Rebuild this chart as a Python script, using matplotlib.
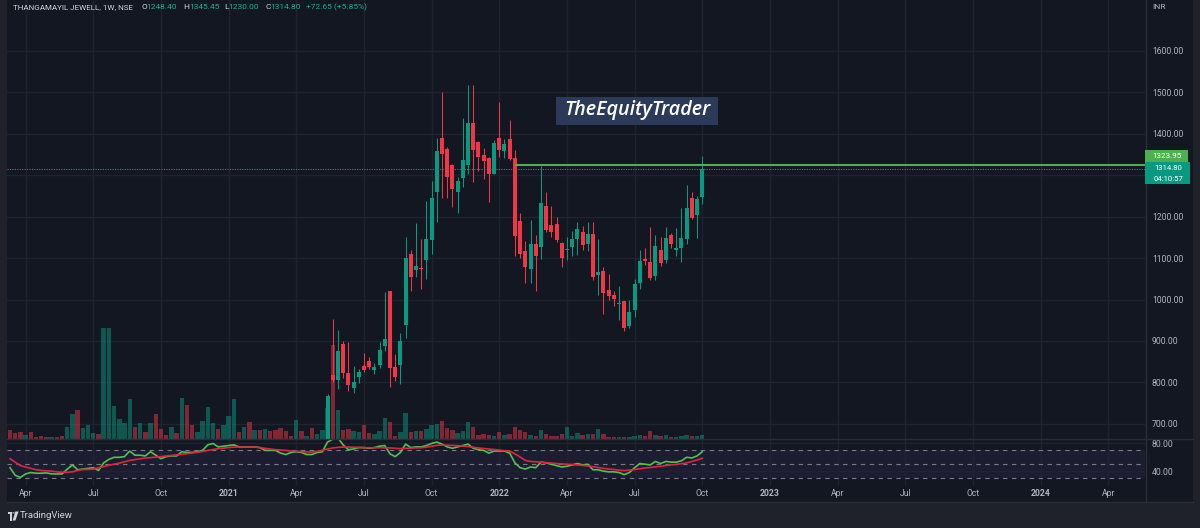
import matplotlib
matplotlib.use('Agg')
import matplotlib.pyplot as plt
import matplotlib.dates as mdates
from matplotlib.patches import Rectangle, Circle, Polygon
from matplotlib.lines import Line2D
from matplotlib.transforms import blended_transform_factory, Affine2D
import pandas as pd

plt.rcParams['font.family'] = ['Roboto', 'DejaVu Sans']

# ---------------- data ----------------
week_start = '2020-03-16'
n_weeks = 134
first_candle = 61          # earlier weeks trade below the visible price window

opens = [548, 819, 806, 893, 822, 787, 813, 839, 851, 830, 843, 889, 1020, 837, 843, 938,
         1109, 1071, 1077, 1096, 1144, 1259, 1391, 1364, 1325, 1259, 1294, 1324, 1427, 1380,
         1350, 1342, 1303, 1391, 1358, 1387, 1342, 1190, 1116, 1074, 1135, 1126, 1225, 1179,
         1182, 1136, 1119, 1126, 1145, 1162, 1134, 1158, 1060, 1069, 1022, 1011, 989, 996,
         936, 974, 1039, 1098, 1091, 1056, 1120, 1095, 1155, 1119, 1124, 1147, 1244, 1205, 1248.40]
highs = [772, 952, 927, 899, 897, 839, 833, 871, 861, 847, 897, 1018, 1020, 868, 920, 1151,
         1120, 1185, 1145, 1237, 1286, 1391, 1501, 1369, 1327, 1296, 1439, 1518, 1518, 1382,
         1366, 1345, 1385, 1477, 1387, 1433, 1361, 1209, 1141, 1191, 1155, 1323, 1260, 1225,
         1200, 1139, 1150, 1165, 1187, 1177, 1187, 1187, 1145, 1079, 1061, 1020, 1032, 997,
         998, 1050, 1120, 1125, 1176, 1155, 1150, 1174, 1161, 1172, 1220, 1276, 1260, 1250, 1345.45]
lows = [540, 800, 785, 810, 780, 774, 799, 826, 832, 821, 834, 876, 790, 803, 795, 908,
        1021, 1054, 1025, 1049, 1109, 1187, 1244, 1244, 1223, 1210, 1272, 1302, 1284, 1311,
        1292, 1236, 1302, 1343, 1342, 1336, 1105, 1100, 1041, 1041, 1021, 1098, 1162, 1150,
        1139, 1078, 1095, 1106, 1108, 1119, 1116, 1047, 1012, 965, 999, 985, 951, 923,
        931, 957, 1026, 1084, 1046, 1046, 1082, 1087, 1124, 1105, 1090, 1135, 1195, 1149, 1230.00]
closes = [768, 806, 875, 822, 793, 802, 826, 829, 836, 837, 877, 905, 835, 812, 899, 1100,
          1054, 1082, 1073, 1145, 1245, 1358, 1352, 1296, 1267, 1286, 1336, 1427, 1361, 1343,
          1334, 1303, 1377, 1361, 1376, 1340, 1153, 1110, 1078, 1135, 1104, 1232, 1167, 1162,
          1143, 1100, 1121, 1145, 1171, 1131, 1158, 1055, 1066, 1016, 1008, 1001, 992, 931,
          971, 1037, 1093, 1093, 1052, 1129, 1088, 1149, 1134, 1125, 1149, 1220, 1197, 1242, 1314.80]

volume_k = [85, 58, 65, 35, 65, 18, 25, 18, 18, 12, 22, 112, 242, 285, 105, 138, 58, 42,
            1105, 1105, 325, 192, 158, 395, 112, 152, 65, 158, 245, 95, 38, 112, 52, 408,
            335, 132, 65, 178, 312, 158, 98, 132, 222, 392, 65, 112, 165, 82, 82, 98, 75,
            88, 102, 75, 28, 182, 75, 28, 108, 42, 85, 302, 935, 285, 85, 95, 78, 62, 135,
            55, 42, 75, 205, 165, 28, 62, 252, 62, 78, 75, 98, 138, 148, 178, 105, 85, 55,
            78, 162, 115, 38, 42, 35, 28, 65, 38, 45, 112, 85, 65, 35, 28, 85, 42, 25, 25,
            45, 118, 25, 55, 35, 42, 48, 98, 48, 18, 12, 12, 12, 12, 28, 32, 28, 72, 35, 28,
            35, 18, 18, 25, 38, 25, 25, 32]
early_volume_up = [0, 0, 0, 1, 0, 0, 0, 0, 1, 0, 0, 1, 1, 0, 1, 1, 1, 0, 1, 1, 1, 1, 1, 1,
                   0, 1, 0, 1, 0, 0, 0, 1, 0, 1, 0, 0, 1, 1, 1, 1, 0, 1, 1, 1, 0, 1, 0, 1,
                   0, 1, 0, 0, 0, 0, 0, 1, 0, 1, 0, 1, 1]

rsi = [45, 34, 31, 36, 38, 37, 37, 37.5, 36, 36,
       36, 43, 49, 42, 43, 44, 45, 41, 52, 57,
       60, 60, 61, 69, 63, 63, 62, 68, 63, 58,
       61, 62, 62, 68, 67, 67, 68, 70, 78, 80,
       75, 76, 77, 78, 75, 75, 75, 75, 74, 70,
       70, 70, 66, 64, 67, 68, 67, 64, 64, 67,
       68, 82, 86, 88, 78, 71, 72, 74, 74, 73,
       74, 76, 77, 65, 61, 67, 79, 74, 75, 75,
       77, 80, 82, 79, 75, 73, 75, 77, 79, 73,
       71, 70, 66, 69, 69, 69, 66, 52, 45, 43,
       46, 45, 53, 52, 50, 48, 46, 47, 49, 51,
       49, 50, 42, 42, 40, 39, 39, 38, 35, 38,
       45, 51, 50, 49, 54, 51, 54, 53, 53, 55,
       60, 59, 62, 68]
rsi_ma = [58, 53, 48, 46, 44, 42, 41, 40.5, 40, 39,
          38.5, 38.5, 39, 41, 42.4, 42.6, 42.9, 45, 46.5, 48.6,
          50, 51.5, 53.5, 55.5, 56.7, 58, 59, 59.5, 60.2, 61,
          61.8, 62.6, 63.5, 64.3, 65.2, 66.2, 67.2, 68.5, 70, 71.3,
          72.4, 73.2, 74, 74.8, 74.8, 74.8, 74.8, 74.8, 74, 73,
          72, 71, 70.5, 70, 69, 68.6, 68.2, 67.8, 67.6, 68.5,
          70, 72, 73.5, 74.3, 74.8, 74.8, 74.5, 74.2, 73.9, 73.8,
          73.8, 73.8, 73.8, 73.5, 73, 72.5, 72.8, 73.2, 73.6, 73.8,
          74.5, 76, 77.4, 77.6, 77.4, 77.1, 76.8, 76.2, 75.5, 74.5,
          73.5, 72.8, 72, 71.2, 70.3, 69.6, 69, 65, 60.5, 55.5,
          54, 53.5, 53, 52.3, 51.7, 51, 50.5, 50, 49.5, 49,
          48.3, 47.5, 46.5, 45.2, 44, 43, 42.4, 41.5, 40.8, 41.5,
          42.3, 43.5, 44.5, 45.3, 46.2, 47, 48, 49, 49.8, 50.8,
          52, 54, 56, 58.5]

tick_dates = ['2020-04-06', '2020-07-06', '2020-10-05', '2021-01-04', '2021-04-05',
              '2021-07-05', '2021-10-04', '2022-01-03', '2022-04-04', '2022-07-04',
              '2022-10-03', '2023-01-02', '2023-04-03', '2023-07-03', '2023-10-02',
              '2024-01-01', '2024-04-01']
tick_labels = ['Apr', 'Jul', 'Oct', '2021', 'Apr', 'Jul', 'Oct', '2022', 'Apr', 'Jul',
               'Oct', '2023', 'Apr', 'Jul', 'Oct', '2024', 'Apr']
price_ticks = [700, 800, 900, 1000, 1100, 1200, 1300, 1400, 1500, 1600]
# the 1300 label is hidden behind the last-price tags in the reference
price_tick_labels = ['700.00', '800.00', '900.00', '1000.00', '1100.00', '1200.00', '',
                     '1400.00', '1500.00', '1600.00']
rsi_ticks = [40, 80]

ray_level = 1323.95
ray_start_week = 97
last_close = 1314.80
header_name = 'THANGAMAYIL JEWELL, 1W, NSE'
header_vals = [('O', '1248.40'), ('H', '1345.45'), ('L', '1230.00'), ('C', '1314.80')]
header_change = '+72.65 (+5.85%)'
countdown = '04:10:57'

# ---------------- style ----------------
BG = '#131722'
OUTER = '#1f222b'
GRID = '#1f2330'
SEP = '#2a2e39'
TXT = '#b2b5be'
UP = '#089981'
DOWN = '#f23645'

W, H = 1200, 528
fig = plt.figure(figsize=(W / 100, H / 100), dpi=100, facecolor=OUTER)


def fx(px):
    return px / W


def fy(py):
    return 1 - py / H


def rect(x0, y0, x1, y1):
    return [fx(x0), fy(y1), (x1 - x0) / W, (y1 - y0) / H]


fig.add_artist(Rectangle((fx(7), fy(502)), (1193 - 7) / W, 502 / H,
                         transform=fig.transFigure, facecolor=BG, edgecolor='none', zorder=-5))

ax = fig.add_axes(rect(7, 0, 1145, 438.5))
ax_r = fig.add_axes(rect(7, 438.5, 1145, 486), sharex=ax)
for a in (ax, ax_r):
    a.set_facecolor(BG)
    for s in a.spines.values():
        s.set_visible(False)

dates = pd.date_range(week_start, periods=n_weeks, freq='W-MON')
x = mdates.date2num(dates)
xc = x[first_candle:]
tick_x = mdates.date2num(pd.to_datetime(tick_dates))
ppd = 5.205 / 7.0   # pixels per day

# volume overlay (bottom of price pane)
vol_dirs = list(early_volume_up) + [1 if c >= o else 0 for o, c in zip(opens, closes)]
vol_cols = ['#089981' if d else '#f23645' for d in vol_dirs]
vol_top = max(volume_k) * 3.96
vtrans = blended_transform_factory(ax.transData, Affine2D().scale(1, 1 / vol_top) + ax.transAxes)
vb = ax.bar(x, volume_k, width=4.4 / ppd, bottom=0, color=vol_cols, alpha=0.5,
            linewidth=0, zorder=1)
for p in vb:
    p.set_transform(vtrans)

# candles
cols = [UP if c >= o else DOWN for o, c in zip(opens, closes)]
ax.vlines(xc, lows, highs, colors=cols, linewidth=0.75, zorder=3)
bottoms = [min(o, c) for o, c in zip(opens, closes)]
heights = [max(abs(c - o), 2.0) for o, c in zip(opens, closes)]
ax.bar(xc, heights, bottom=bottoms, width=4.0 / ppd, color=cols, linewidth=0, zorder=4)

xlim = (x[0] - 3 / ppd, x[0] + 1135 / ppd)
ax.hlines(ray_level, x[ray_start_week], xlim[1], color='#4caf50', linewidth=1.5, zorder=5)
ax.axhline(last_close, color=UP, linewidth=0.8, linestyle=(0, (1, 1.2)), zorder=2)

ax.set_xlim(*xlim)
ax.set_ylim(664.5, 1723.1)
ax.set_yticks(price_ticks)
ax.set_yticklabels(price_tick_labels)
ax.yaxis.tick_right()
ax.tick_params(axis='y', length=0, pad=5, labelsize=6.2, labelcolor=TXT)
ax.set_xticks(tick_x)
ax.tick_params(axis='x', length=0, labelbottom=False)
ax.grid(True, color=GRID, linewidth=1, zorder=0)
ax.set_axisbelow(True)

# RSI pane
ax_r.axhspan(30, 70, color='#7e57c2', alpha=0.1, linewidth=0, zorder=0)
for lvl in (70, 50, 30):
    ax_r.axhline(lvl, color='#787b86', linewidth=0.8, linestyle=(0, (4, 4)), zorder=1)
ax_r.plot(x, rsi, color='#4fc24f', linewidth=1.2, zorder=3)
ax_r.plot(x, rsi_ma, color='#e0243f', linewidth=1.2, zorder=4)
ax_r.set_ylim(18.57, 87.14)
ax_r.set_yticks(rsi_ticks)
ax_r.set_yticklabels([f'{v:.2f}' for v in rsi_ticks])
ax_r.yaxis.tick_right()
ax_r.tick_params(axis='y', length=0, pad=5, labelsize=6.2, labelcolor=TXT)
ax_r.set_xticks(tick_x)
ax_r.set_xticklabels(tick_labels)
ax_r.tick_params(axis='x', length=0, pad=2.5, labelsize=6.2, labelcolor=TXT)
for lab in ax_r.get_xticklabels():
    if lab.get_text().isdigit():
        lab.set_fontweight('bold')
ax_r.grid(True, color=GRID, linewidth=1, zorder=0)
ax_r.set_axisbelow(True)
ax_r.set_xlim(*xlim)

# separators
for (x0, y0, x1, y1) in [(7, 438.5, 1193, 438.5), (1145.5, 0, 1145.5, 502),
                         (7, 502, 1193, 502)]:
    fig.add_artist(Line2D([fx(x0), fx(x1)], [fy(y0), fy(y1)], transform=fig.transFigure,
                          color=SEP, linewidth=1, zorder=2))

# header
fig.text(fx(12.7), fy(7), header_name, color='#d1d4dc', fontsize=5.8, va='center', ha='left', zorder=6)
hx = [(141.7, 146.7), (183.3, 189), (224, 228.5), (265, 270.7)]
for (lx, vx), (k, v) in zip(hx, header_vals):
    fig.text(fx(lx), fy(7), k, color='#d1d4dc', fontsize=6.0, va='center', ha='left', zorder=6)
    fig.text(fx(vx), fy(7), v, color='#22ab94', fontsize=6.0, va='center', ha='left', zorder=6)
fig.text(fx(306), fy(7), header_change, color='#22ab94', fontsize=6.0, va='center', ha='left', zorder=6)
fig.text(fx(1152), fy(7), 'INR', color=TXT, fontsize=6, va='center', ha='left', zorder=6)

# price labels on the scale
fig.add_artist(Rectangle((fx(1145), fy(161.6)), (1188.2 - 1145) / W, (161.6 - 150.2) / H,
                         transform=fig.transFigure, facecolor='#4caf50', edgecolor='none', zorder=6))
fig.text(fx(1167.5), fy(156), f'{ray_level:.2f}', color='white', fontsize=5.9, ha='center', va='center', zorder=7)
fig.add_artist(Rectangle((fx(1145), fy(184.5)), (1190.2 - 1145) / W, (184.5 - 162.3) / H,
                         transform=fig.transFigure, facecolor=UP, edgecolor='none', zorder=6))
fig.text(fx(1168), fy(167.6), f'{last_close:.2f}', color='white', fontsize=5.6, ha='center', va='center', zorder=7)
fig.text(fx(1168.5), fy(179.0), countdown, color='white', fontsize=5.6, ha='center', va='center', zorder=7)

# watermark
fig.add_artist(Rectangle((fx(556), fy(125)), (718 - 556) / W, (125 - 96.5) / H,
                         transform=fig.transFigure, facecolor='#2b3a58', edgecolor='none', zorder=6))
fig.text(fx(637), fy(110.5), 'TheEquityTrader', color='white', fontsize=14.2, style='italic',
         fontweight='semibold', family=['Open Sans', 'DejaVu Sans'], ha='center', va='center', zorder=7)

# TradingView footer logo
logo_col = '#d1d4dc'
fig.add_artist(Rectangle((fx(7.5), fy(514.2)), 4.3 / W, 2.7 / H, transform=fig.transFigure,
                         facecolor=logo_col, edgecolor='none', zorder=6))
fig.add_artist(Rectangle((fx(9.6), fy(520.5)), 2.2 / W, 9 / H, transform=fig.transFigure,
                         facecolor=logo_col, edgecolor='none', zorder=6))
fig.add_artist(Circle((fx(13.6), fy(512.9)), 1.3 / W, transform=fig.transFigure,
                      facecolor=logo_col, edgecolor='none', zorder=6))
fig.add_artist(Polygon([(fx(15.4), fy(511.5)), (fx(18.6), fy(511.5)), (fx(15.4), fy(520.5)),
                        (fx(12.6), fy(520.5))], closed=True, transform=fig.transFigure,
                       facecolor=logo_col, edgecolor='none', zorder=6))
fig.text(fx(19.5), fy(516), 'TradingView', color=logo_col, fontsize=6.8, ha='left', va='center', zorder=6)

fig.savefig('out.png', dpi=100, facecolor=OUTER)
